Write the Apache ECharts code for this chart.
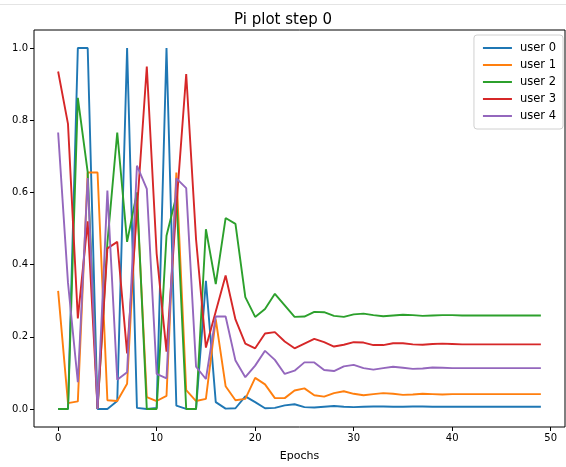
<!DOCTYPE html>
<html>
<head>
<meta charset="utf-8">
<script src="https://cdn.jsdelivr.net/npm/echarts@6/dist/echarts.min.js"></script>
<style>
  html, body { margin: 0; padding: 0; background: #fff; }
  #chart { width: 566px; height: 467px; }
</style>
</head>
<body>
<div id="chart"></div>
<script>
// Per-user policy values over training epochs
const epochs = Array.from({ length: 50 }, (_, i) => i);
const seriesNames = ['user 0', 'user 1', 'user 2', 'user 3', 'user 4'];

const user0 = [0, 0, 1.0, 1.0, 0, 0, 0.022, 1.0, 0.003, 0, 0.003, 1.0, 0.009, 0, 0,
  0.355, 0.019, 0.001, 0.002, 0.035, 0.019, 0.002, 0.003, 0.010, 0.013, 0.005, 0.004,
  0.006, 0.008, 0.006, 0.005, 0.006, 0.007, 0.007, 0.006, 0.006, 0.007, 0.007, 0.006,
  0.006, 0.006, 0.006, 0.006, 0.006, 0.006, 0.006, 0.006, 0.006, 0.006, 0.006];
const user1 = [0.327, 0.016, 0.021, 0.655, 0.655, 0.024, 0.022, 0.070, 0.580, 0.033,
  0.022, 0.036, 0.655, 0.052, 0.022, 0.028, 0.248, 0.063, 0.024, 0.028, 0.086, 0.068,
  0.030, 0.030, 0.051, 0.057, 0.038, 0.034, 0.044, 0.049, 0.042, 0.038, 0.041, 0.044,
  0.042, 0.039, 0.040, 0.042, 0.041, 0.040, 0.041, 0.041, 0.041, 0.041, 0.041, 0.041,
  0.041, 0.041, 0.041, 0.041];
const user2 = [0, 0, 0.862, 0.656, 0, 0.460, 0.766, 0.463, 0.600, 0, 0, 0.480, 0.590,
  0, 0, 0.498, 0.346, 0.529, 0.513, 0.310, 0.255, 0.277, 0.319, 0.287, 0.255, 0.256,
  0.269, 0.268, 0.258, 0.255, 0.262, 0.264, 0.260, 0.257, 0.259, 0.261, 0.260, 0.258,
  0.259, 0.260, 0.260, 0.259, 0.259, 0.259, 0.259, 0.259, 0.259, 0.259, 0.259, 0.259];
const user3 = [0.935, 0.790, 0.251, 0.520, 0, 0.445, 0.463, 0.154, 0.550, 0.949, 0.430,
  0.159, 0.560, 0.928, 0.470, 0.170, 0.270, 0.370, 0.248, 0.181, 0.168, 0.209, 0.213,
  0.187, 0.168, 0.181, 0.194, 0.185, 0.173, 0.178, 0.185, 0.184, 0.177, 0.177, 0.182,
  0.182, 0.179, 0.178, 0.180, 0.181, 0.180, 0.179, 0.179, 0.179, 0.179, 0.179, 0.179,
  0.179, 0.179, 0.179];
const user4 = [0.766, 0.350, 0.074, 0.640, 0, 0.605, 0.081, 0.102, 0.674, 0.610, 0.097,
  0.085, 0.639, 0.612, 0.117, 0.083, 0.256, 0.256, 0.134, 0.088, 0.120, 0.161, 0.136,
  0.097, 0.106, 0.129, 0.129, 0.108, 0.105, 0.118, 0.122, 0.113, 0.109, 0.113, 0.117,
  0.114, 0.111, 0.112, 0.115, 0.114, 0.113, 0.113, 0.113, 0.113, 0.113, 0.113, 0.113,
  0.113, 0.113, 0.113];

const xTicks = [0, 10, 20, 30, 40, 50];
const yTicks = [0, 0.2, 0.4, 0.6, 0.8, 1.0];

const colors = ['#1f77b4', '#ff7f0e', '#2ca02c', '#d62728', '#9467bd'];
const allValues = [user0, user1, user2, user3, user4];
const FONT = 'DejaVu Sans';

const chart = echarts.init(document.getElementById('chart'), null, { renderer: 'canvas' });

const series = allValues.map((vals, k) => ({
  name: seriesNames[k],
  type: 'line',
  data: epochs.map((e, i) => [e, vals[i]]),
  symbol: 'none',
  showSymbol: false,
  lineStyle: { width: 1.9, color: colors[k] },
  itemStyle: { color: colors[k] },
  emphasis: { disabled: true },
  animation: false
}));

chart.setOption({
  backgroundColor: '#fff',
  animation: false,
  title: {
    text: 'Pi plot step 0',
    left: 'center',
    top: 8,
    textStyle: { fontFamily: FONT, fontSize: 15, fontWeight: 'normal', color: '#000' }
  },
  graphic: [{
    type: 'line',
    shape: { x1: 0, y1: 4.5, x2: 566, y2: 4.5 },
    style: { stroke: '#e4e4e4', lineWidth: 1 },
    silent: true
  }],
  legend: {
    orient: 'vertical',
    right: 3,
    top: 35,
    icon: 'rect',
    itemWidth: 29,
    itemHeight: 2,
    itemGap: 5,
    padding: [7, 7, 7, 9],
    borderColor: '#d0d0d0',
    borderWidth: 1,
    borderRadius: 3,
    backgroundColor: '#fff',
    textStyle: { fontFamily: FONT, fontSize: 11.5, color: '#000', lineHeight: 12, padding: [0, 0, 0, 3] },
    data: seriesNames
  },
  grid: {
    left: 34, right: 1, top: 30, bottom: 37,
    show: true, borderColor: '#000', borderWidth: 1, backgroundColor: 'transparent'
  },
  xAxis: {
    type: 'value',
    min: -2.45, max: 51.45,
    name: 'Epochs',
    nameLocation: 'middle',
    nameGap: 24,
    nameTextStyle: { fontFamily: FONT, fontSize: 11, color: '#000' },
    axisLine: { show: false, onZero: false },
    splitLine: { show: false },
    axisTick: { show: true, inside: false, length: 4, customValues: xTicks, lineStyle: { color: '#000' } },
    axisLabel: { customValues: xTicks, fontFamily: FONT, fontSize: 10, color: '#000', margin: 6 }
  },
  yAxis: {
    type: 'value',
    min: -0.05, max: 1.05,
    axisLine: { show: false, onZero: false },
    splitLine: { show: false },
    axisTick: { show: true, inside: false, length: 4, customValues: yTicks, lineStyle: { color: '#000' } },
    axisLabel: {
      customValues: yTicks, fontFamily: FONT, fontSize: 10, color: '#000', margin: 6,
      formatter: v => v.toFixed(1)
    }
  },
  series: series
});
</script>
</body>
</html>
